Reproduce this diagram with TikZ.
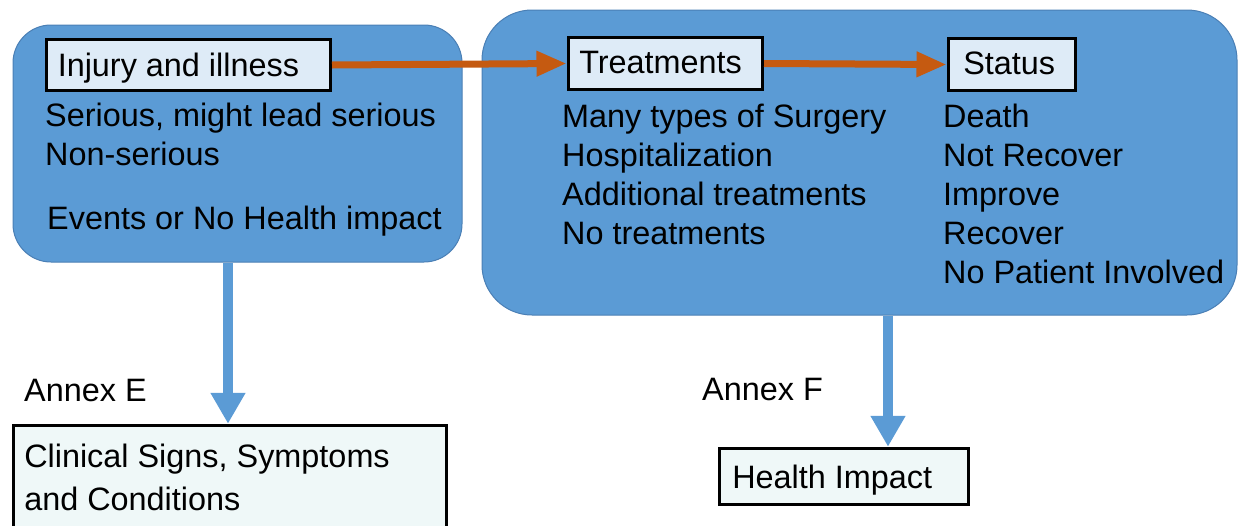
\documentclass[tikz,border=0pt]{standalone}
\usepackage{fontspec}
\setmainfont{Liberation Sans}
\usetikzlibrary{arrows.meta}
\definecolor{boxblue}{HTML}{5B9BD5}
\definecolor{boxedge}{HTML}{4A7FB5}
\definecolor{lightblue}{HTML}{DEEBF7}
\definecolor{paleteal}{HTML}{EFF8F8}
\definecolor{orangearrow}{HTML}{C55A11}
\tikzset{
  bigbox/.style={draw=boxedge, line width=1pt, fill=boxblue, rounded corners=#1, inner sep=0, anchor=north west},
  labelbox/.style={draw=black, line width=3.5pt, fill=lightblue, inner ysep=0, anchor=base west},
  outbox/.style={draw=black, line width=3.5pt, fill=paleteal, inner ysep=0, anchor=base west},
  txt/.style={anchor=base west, inner sep=0},
  flowarrow/.style={draw=orangearrow, line width=7pt, -{Triangle[length=30pt,width=24pt]}},
  downarrow/.style={draw=boxblue, line width=10pt, -{Triangle[length=31pt,width=33pt]}},
}
\begin{document}
\begin{tikzpicture}[x=1pt,y=-1pt,font=\fontsize{32.4pt}{39pt}\selectfont]
\useasboundingbox (0,0) rectangle (1238,525);
\clip (0,0) rectangle (1238,525);
% big rounded boxes
\node[bigbox=38pt, minimum width=449pt, minimum height=237pt] (lbox) at (12.5,24.5) {};
\node[bigbox=50pt, minimum width=755pt, minimum height=305pt] (rbox) at (481.5,9.5) {};
% label boxes
\node[labelbox, inner xsep=11.5pt, text height=36.5pt, text depth=14.5pt] (inj) at (44.5,76) {\makebox[261pt][l]{Injury and illness}};
\node[labelbox, inner xsep=11pt, text height=35.5pt, text depth=16.5pt] (treat) at (566.5,73) {\makebox[172pt][l]{Treatments}};
\node[labelbox, inner xsep=15pt, text height=35.5pt, text depth=16.5pt] (stat) at (946.5,74) {\makebox[97pt][l]{Status}};
% left box text
\node[txt] (l1) at (45,126) {Serious, might lead serious};
\node[txt] (l2) at (45,165) {Non-serious};
\node[txt] (l3) at (47,229) {Events or No Health impact};
% treatments text
\node[txt] (t1) at (562,127) {Many types of Surgery};
\node[txt] (t2) at (562,166) {Hospitalization};
\node[txt] (t3) at (562,205) {Additional treatments};
\node[txt] (t4) at (562,244) {No treatments};
% status text
\node[txt] (s1) at (943,127) {Death};
\node[txt] (s2) at (943,166) {Not Recover};
\node[txt] (s3) at (943,205) {Improve};
\node[txt] (s4) at (943,244) {Recover};
\node[txt] (s5) at (943,283) {No Patient Involved};
% annex labels
\node[txt] (ae) at (24,401) {Annex E};
\node[txt] (af) at (702,400) {Annex F};
% output boxes
\node[outbox, inner xsep=11pt, text height=41.5pt, text depth=73pt] (clin) at (11.5,467)
  {\parbox[t]{411pt}{\raggedright\baselineskip=43pt Clinical Signs, Symptoms\\and Conditions}};
\node[outbox, inner xsep=13pt, text height=39.5pt, text depth=16.5pt] (hi) at (717.5,488) {\makebox[223pt][l]{Health Impact}};
% connectors
\draw[flowarrow] (inj.east) -- (treat.west);
\draw[flowarrow] (treat.east) -- (stat.west);
\coordinate (ex) at (228,0);
\coordinate (fx) at (888,0);
\draw[downarrow] (lbox.south -| ex) -- (clin.north -| ex);
\draw[downarrow] (rbox.south -| fx) -- (hi.north -| fx);
\end{tikzpicture}
\end{document}
